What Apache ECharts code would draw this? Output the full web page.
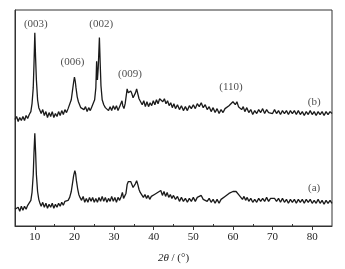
<!DOCTYPE html>
<html>
<head>
<meta charset="utf-8">
<script src="https://cdn.jsdelivr.net/npm/echarts@6/dist/echarts.min.js"></script>
<style>
html, body { margin: 0; padding: 0; background: #fff; }
#main { width: 345px; height: 269px; }
</style>
</head>
<body>
<div id="main"></div>
<script>
// 2θ / intensity (arbitrary units, offset stacked)
var traceB = [[5,108],[5.4,111],[5.8,106],[6.2,110],[6.6,107],[7,111],[7.4,107],[7.8,112],[8.2,109],[8.6,113],[9,116],[9.3,124],[9.6,140],[9.8,165],[10,196],[10.2,170],[10.4,148],[10.7,128],[11,120],[11.3,117],[11.6,114],[12,118],[12.4,112],[12.8,116],[13.2,110],[13.6,115],[14,111],[14.4,116],[14.8,110],[15.2,114],[15.6,111],[16,116],[16.4,112],[16.8,117],[17.2,113],[17.6,118],[18,115],[18.4,119],[18.8,121],[19.2,128],[19.5,137],[19.8,146],[20,151],[20.2,147],[20.4,140],[20.7,131],[21,126],[21.3,123],[21.6,120],[22,122],[22.4,118],[22.8,121],[23.2,116],[23.6,120],[24,117],[24.4,121],[24.8,123],[25.1,128],[25.4,140],[25.6,167],[25.8,148],[26,160],[26.3,191],[26.5,165],[26.7,142],[27,128],[27.4,123],[27.8,120],[28.2,122],[28.6,117],[29,121],[29.4,117],[29.8,122],[30.2,118],[30.6,122],[31,117],[31.4,121],[31.7,122],[32,127],[32.2,122],[32.5,119],[32.8,124],[33.1,133],[33.3,139],[33.6,135],[33.9,133],[34.2,137],[34.5,134],[34.8,130],[35.1,132],[35.4,135],[35.7,139],[36,134],[36.3,129],[36.7,126],[37.1,123],[37.5,127],[37.9,121],[38.3,126],[38.7,121],[39.1,125],[39.5,122],[39.9,127],[40.3,123],[40.7,128],[41.1,124],[41.5,129],[41.9,130],[42.3,126],[42.7,129],[43.1,124],[43.5,127],[43.9,122],[44.3,125],[44.7,120],[45.1,124],[45.5,119],[46,123],[46.5,118],[47,122],[47.5,117],[48,121],[48.5,117],[49,122],[49.5,119],[50,123],[50.5,119],[51,124],[51.5,121],[52,125],[52.5,120],[53,123],[53.5,118],[54,121],[54.5,116],[55,120],[55.5,115],[56,119],[56.5,114],[57,118],[57.5,115],[58,119],[58.5,118],[59,122],[59.5,122],[60,126],[60.3,127],[60.6,123],[61,126],[61.4,121],[61.8,122],[62.2,118],[62.6,121],[63,116],[63.5,120],[64,115],[64.5,118],[65,113],[65.5,117],[66,114],[66.5,118],[67,115],[67.5,119],[68,114],[68.5,118],[69,115],[69.5,117],[70,114],[70.5,118],[71,114],[71.5,117],[72,113],[72.5,117],[73,114],[73.5,117],[74,113],[74.5,117],[75,114],[75.5,117],[76,113],[76.5,117],[77,113],[77.5,116],[78,112],[78.5,116],[79,113],[79.5,117],[80,113],[80.5,116],[81,112],[81.5,116],[82,113],[82.5,116],[83,112],[83.5,116],[84,113],[84.5,116],[85,114]];

var traceA = [[5,17],[5.4,15],[5.8,19],[6.2,15],[6.6,20],[7,16],[7.4,20],[7.8,17],[8.2,21],[8.6,22],[9,26],[9.3,34],[9.6,52],[9.8,75],[10,94],[10.2,75],[10.4,52],[10.7,35],[11,27],[11.3,23],[11.6,20],[12,24],[12.4,19],[12.8,23],[13.2,18],[13.6,22],[14,19],[14.4,23],[14.8,18],[15.2,22],[15.6,19],[16,23],[16.4,20],[16.8,24],[17.2,21],[17.6,25],[18,23],[18.4,26],[18.8,29],[19.2,35],[19.5,43],[19.8,51],[20.1,56],[20.3,53],[20.5,46],[20.8,38],[21.1,32],[21.4,29],[21.8,26],[22.2,30],[22.6,24],[23,28],[23.4,24],[23.8,29],[24.2,25],[24.6,29],[25,24],[25.4,28],[25.8,24],[26.2,29],[26.6,25],[27,30],[27.4,25],[27.8,29],[28.2,24],[28.6,28],[29,25],[29.4,30],[29.8,25],[30.2,29],[30.6,24],[31,29],[31.4,26],[31.8,30],[32.1,34],[32.4,28],[32.7,27],[33,33],[33.3,42],[33.6,45],[33.9,43],[34.2,45],[34.5,42],[34.8,39],[35.1,40],[35.4,43],[35.7,46],[36,42],[36.3,37],[36.6,34],[37,33],[37.4,29],[37.8,32],[38.2,28],[38.6,31],[39,27],[39.4,30],[39.8,29],[40.2,32],[40.6,30],[41,34],[41.4,32],[41.8,36],[42.2,31],[42.6,35],[43,30],[43.4,34],[43.8,29],[44.2,32],[44.6,28],[45,31],[45.5,27],[46,30],[46.5,25],[47,29],[47.5,25],[48,28],[48.5,24],[49,28],[49.5,25],[50,29],[50.5,25],[51,29],[51.5,27],[52,31],[52.5,27],[53,29],[53.5,25],[54,28],[54.5,24],[55,27],[55.5,23],[56,27],[56.5,23],[57,27],[57.5,26],[58,30],[58.5,29],[59,33],[59.5,32],[60,35],[60.4,36],[60.8,35],[61.2,33],[61.6,31],[62,30],[62.4,27],[62.8,30],[63.2,26],[63.6,29],[64,25],[64.5,28],[65,24],[65.5,27],[66,24],[66.5,28],[67,25],[67.5,28],[68,25],[68.5,29],[69,25],[69.5,28],[70,27],[70.5,28],[71,25],[71.5,28],[72,24],[72.5,28],[73,24],[73.5,27],[74,23],[74.5,27],[75,24],[75.5,27],[76,23],[76.5,27],[77,24],[77.5,27],[78,23],[78.5,27],[79,24],[79.5,27],[80,23],[80.5,26],[81,23],[81.5,27],[82,23],[82.5,26],[83,22],[83.5,26],[84,23],[84.5,26],[85,23]];

// peak labels and trace labels
var labelText = ['(003)', '(006)', '(002)', '(009)', '(110)', '(b)', '(a)'];
var labelX = [10.25, 19.5, 26.75, 34, 59.5, 80.5, 80.5];
var labelY = [205, 166, 205, 154, 141, 126, 38];

var majorTicks = [10, 20, 30, 40, 50, 60, 70, 80];
var minorTicks = [15, 25, 35, 45, 55, 65, 75];

var myChart = echarts.init(document.getElementById('main'));

var labelData = [];
for (var i = 0; i < labelText.length; i++) {
    labelData.push({ name: labelText[i], value: [labelX[i], labelY[i]] });
}

var serif = '"Liberation Serif", "Times New Roman", serif';

option = {
    animation: false,
    backgroundColor: '#fff',
    grid: {
        left: 15,
        right: 13,
        top: 10,
        bottom: 40,
        show: true,
        borderColor: '#333',
        borderWidth: 1
    },
    xAxis: [
        {
            type: 'value',
            min: 5,
            max: 85,
            name: '{i|2θ} / (°)',
            nameLocation: 'middle',
            nameGap: 27,
            nameTextStyle: {
                fontFamily: serif,
                fontSize: 11,
                color: '#222',
                rich: {
                    i: { fontFamily: serif, fontStyle: 'italic', fontSize: 11, color: '#222' }
                }
            },
            axisLine: { show: true, lineStyle: { color: '#333', width: 1 } },
            axisTick: { show: true, length: 4, customValues: majorTicks, lineStyle: { color: '#333' } },
            axisLabel: {
                customValues: majorTicks,
                margin: 6,
                fontFamily: serif,
                fontSize: 11,
                color: '#222'
            },
            splitLine: { show: false }
        },
        {
            type: 'value',
            min: 5,
            max: 85,
            position: 'bottom',
            axisLine: { show: false },
            axisTick: { show: true, inside: true, length: 2, customValues: minorTicks, lineStyle: { color: '#333' } },
            axisLabel: { show: false },
            splitLine: { show: false }
        }
    ],
    yAxis: {
        type: 'value',
        min: 0,
        max: 219,
        axisLine: { show: true, lineStyle: { color: '#333' } },
        axisTick: { show: false },
        axisLabel: { show: false },
        splitLine: { show: false }
    },
    series: [
        {
            name: '(b)',
            type: 'line',
            data: traceB,
            symbol: 'none',
            lineStyle: { color: '#1a1a1a', width: 1.3 }
        },
        {
            name: '(a)',
            type: 'line',
            data: traceA,
            symbol: 'none',
            lineStyle: { color: '#1a1a1a', width: 1.3 }
        },
        {
            type: 'scatter',
            data: labelData,
            symbolSize: 0,
            label: {
                show: true,
                position: 'inside',
                formatter: '{b}',
                fontFamily: serif,
                fontSize: 11,
                color: '#222'
            }
        }
    ]
};

myChart.setOption(option);
</script>
</body>
</html>
